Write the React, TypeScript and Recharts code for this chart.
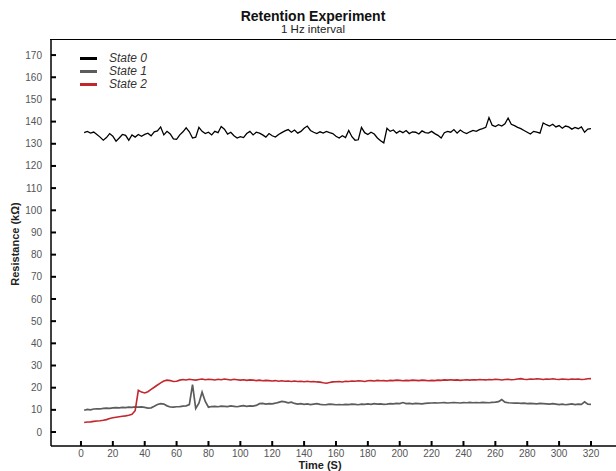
import { LineChart, Line, XAxis, YAxis } from "recharts"

const FONT = "'Liberation Sans', Arial, sans-serif"

const TIME = [
  2, 4, 6, 8, 10, 12, 14, 16, 18, 20,
  22, 24, 26, 28, 30, 32, 34, 36, 38, 40,
  42, 44, 46, 48, 50, 52, 54, 56, 58, 60,
  62, 64, 66, 68, 70, 72, 74, 76, 78, 80,
  82, 84, 86, 88, 90, 92, 94, 96, 98, 100,
  102, 104, 106, 108, 110, 112, 114, 116, 118, 120,
  122, 124, 126, 128, 130, 132, 134, 136, 138, 140,
  142, 144, 146, 148, 150, 152, 154, 156, 158, 160,
  162, 164, 166, 168, 170, 172, 174, 176, 178, 180,
  182, 184, 186, 188, 190, 192, 194, 196, 198, 200,
  202, 204, 206, 208, 210, 212, 214, 216, 218, 220,
  222, 224, 226, 228, 230, 232, 234, 236, 238, 240,
  242, 244, 246, 248, 250, 252, 254, 256, 258, 260,
  262, 264, 266, 268, 270, 272, 274, 276, 278, 280,
  282, 284, 286, 288, 290, 292, 294, 296, 298, 300,
  302, 304, 306, 308, 310, 312, 314, 316, 318, 320,
]

// resistance in kOhm, one reading every 2 s
const STATE_0 = [
  135.0, 135.6, 134.8, 135.3, 134.2, 133.0, 131.6, 132.8, 134.6, 133.4,
  131.2, 132.6, 134.2, 133.8, 131.6, 134.0, 133.0, 134.2, 133.4, 134.2,
  134.8, 133.6, 135.4, 135.8, 137.6, 134.0, 135.6, 134.4, 132.2, 132.0,
  134.0, 135.4, 137.2, 135.4, 132.6, 133.0, 137.4, 135.6, 134.6, 135.2,
  134.0, 135.6, 135.0, 137.8, 136.6, 134.4, 135.2, 133.6, 132.6, 133.2,
  132.8, 134.6, 135.6, 134.0, 135.2, 134.8, 134.0, 133.0, 134.6, 133.6,
  133.0, 134.2, 135.0, 135.8, 136.4, 135.2, 136.2, 134.8, 135.6, 137.0,
  138.0, 136.0, 135.2, 134.6, 135.4, 134.8, 135.6, 135.0, 134.6, 133.4,
  132.6, 133.6, 132.8, 136.0, 133.2, 131.6, 131.8, 137.4, 135.0, 134.2,
  135.2, 134.4, 132.6, 131.4, 130.4, 137.0, 135.6, 136.2, 134.8, 135.8,
  135.0, 136.0, 134.6, 135.4, 135.2, 134.4, 135.8, 135.0, 134.8, 135.6,
  134.6, 133.8, 132.6, 135.0, 135.6, 135.2, 136.4, 134.8, 136.2, 135.2,
  134.6, 135.4, 136.0, 135.6, 136.4, 136.8, 137.4, 141.8, 138.4, 137.8,
  138.6, 138.0, 139.0, 141.6, 138.8, 138.2, 137.4, 136.8, 136.0, 135.2,
  134.4, 135.6, 135.2, 134.8, 139.4, 138.6, 138.0, 138.8, 137.6, 138.2,
  137.0, 138.0, 137.6, 136.6, 137.4, 136.8, 137.6, 135.2, 136.6, 136.8,
]

const STATE_1 = [
  9.8, 10.2, 10.0, 10.4, 10.5, 10.4, 10.7, 10.8, 10.7, 10.9,
  11.0, 10.9, 11.1, 11.0, 11.2, 11.1, 11.3, 11.2, 11.3, 11.1,
  10.8, 10.9, 11.6, 12.4, 12.8, 12.6, 11.8, 11.3, 11.2, 11.4,
  11.5, 11.7, 11.8, 12.4, 21.4, 10.6, 13.0, 18.0, 13.8, 11.2,
  11.5, 11.6, 11.4, 11.7, 11.6, 11.5, 11.8, 11.6, 11.4, 11.7,
  11.9, 11.6, 11.8, 11.7, 12.0, 12.8, 12.9, 12.6, 12.8, 12.7,
  13.0, 13.4, 13.8, 13.6, 13.2, 13.5, 12.9, 12.6, 12.8, 12.5,
  12.7, 12.4, 12.6, 12.8, 12.5, 12.3, 12.4, 12.6, 12.5, 12.3,
  12.4, 12.3, 12.5, 12.4, 12.6, 12.5, 12.3, 12.6, 12.5, 12.7,
  12.5, 12.8, 12.6, 12.7, 12.5, 12.6, 12.8, 12.7, 12.9, 12.8,
  13.3, 12.8, 12.9, 12.7, 12.9, 12.8, 12.7, 12.9, 13.0, 13.1,
  13.2, 13.1, 13.2, 13.3, 13.1, 13.2, 13.3, 13.2, 13.1, 13.3,
  13.2, 13.4, 13.2, 13.3, 13.2, 13.4, 13.3, 13.2, 13.4, 13.5,
  13.7, 14.6, 13.5, 13.2, 13.1, 13.0, 13.1, 12.9, 13.0, 12.8,
  12.9, 12.8, 12.7, 12.9, 12.8, 12.7, 12.6, 12.8, 12.6, 12.4,
  12.6, 12.3, 12.5, 12.7, 12.4, 12.6, 12.5, 13.6, 12.6, 12.5,
]

const STATE_2 = [
  4.3, 4.5, 4.6, 4.8, 5.0, 5.1, 5.3, 5.6, 6.1, 6.4,
  6.7, 6.9, 7.1, 7.3, 7.6, 8.0, 9.6, 18.8, 18.0, 17.6,
  18.2, 19.2, 20.2, 21.2, 22.2, 23.0, 23.4, 23.2, 22.8, 22.9,
  23.4, 23.7, 23.5, 23.8, 23.6, 23.4, 23.7, 23.9, 23.6, 23.8,
  23.7, 23.5, 23.8, 23.6, 23.9, 23.7, 23.5, 23.8, 23.6, 23.4,
  23.6, 23.3, 23.5, 23.4, 23.2, 23.4, 23.1, 23.3, 23.2, 23.0,
  23.2, 22.9, 23.1, 22.9, 23.0, 22.8, 23.0, 22.8, 22.9, 22.7,
  22.9, 22.7, 22.8, 22.6, 22.5, 22.2, 22.0, 22.3, 22.6, 22.7,
  22.8, 22.6, 22.9, 22.8, 23.0, 22.9, 23.1, 23.0, 22.8, 23.1,
  23.2, 23.0, 23.3, 23.1, 23.2, 23.0, 23.3, 23.2, 23.4, 23.3,
  23.1, 23.3, 23.2, 23.4, 23.3, 23.2, 23.4, 23.3, 23.1, 23.3,
  23.2, 23.4, 23.3, 23.5, 23.4, 23.6, 23.4, 23.5, 23.3, 23.5,
  23.6, 23.4, 23.6, 23.5, 23.7, 23.6, 23.5, 23.7, 23.6, 23.8,
  23.7, 23.5, 23.7, 23.8, 23.6, 23.7, 23.9, 24.1, 23.8, 23.7,
  23.9, 23.8, 24.0, 23.9, 23.7, 23.9, 23.8, 24.0, 23.8, 23.7,
  23.9, 23.8, 23.7, 23.9, 23.8, 23.9, 23.7, 23.8, 24.0, 24.1,
]

const X_TICKS = [0, 20, 40, 60, 80, 100, 120, 140, 160, 180, 200, 220, 240, 260, 280, 300, 320]
const Y_TICKS = [0, 10, 20, 30, 40, 50, 60, 70, 80, 90, 100, 110, 120, 130, 140, 150, 160, 170]

const X_DOMAIN = [-18.8, 335.7]
const Y_DOMAIN = [-6.3, 176.8]

const SERIES = [
  { key: "s0", name: "State 0", color: "#000000", width: 1.3, values: STATE_0 },
  { key: "s1", name: "State 1", color: "#5c5c5c", width: 1.7, values: STATE_1 },
  { key: "s2", name: "State 2", color: "#c1272d", width: 1.6, values: STATE_2 },
]

const data = TIME.map((t, i) => {
  const row: Record<string, number> = { t }
  SERIES.forEach((s) => {
    row[s.key] = s.values[i]
  })
  return row
})

const tickStyle = { fontSize: 10, fill: "#555555", fontFamily: FONT }
const tickLineStyle = { stroke: "#000", strokeWidth: 2 }

export default function App() {
  return (
    <div style={{ position: "absolute", left: 0, top: 0, width: 616, height: 471, fontFamily: FONT, background: "#fff" }}>
      <div style={{ position: "absolute", left: 0, width: 626, top: 9, textAlign: "center", fontSize: 14, fontWeight: "bold", color: "#111", lineHeight: "15px" }}>
        Retention Experiment
      </div>
      <div style={{ position: "absolute", left: 0, width: 626, top: 24, textAlign: "center", fontSize: 11.5, color: "#222", lineHeight: "11px" }}>
        1 Hz interval
      </div>

      <LineChart width={616} height={471} data={data} margin={{ top: 40, right: 0, bottom: 0, left: 0 }}>
        <XAxis
          xAxisId="main"
          dataKey="t"
          type="number"
          domain={X_DOMAIN}
          ticks={X_TICKS}
          allowDataOverflow
          tick={tickStyle}
          tickLine={tickLineStyle}
          tickSize={-5}
          tickMargin={9}
          height={25}
          axisLine={{ stroke: "#000", strokeWidth: 1.5 }}
        />
        <YAxis
          yAxisId="main"
          type="number"
          domain={Y_DOMAIN}
          ticks={Y_TICKS}
          allowDataOverflow
          tick={tickStyle}
          tickLine={tickLineStyle}
          tickSize={-5}
          tickMargin={14}
          width={51}
          axisLine={{ stroke: "#000", strokeWidth: 1.5 }}
        />
        {SERIES.map((s) => (
          <Line
            key={s.key}
            xAxisId="main"
            yAxisId="main"
            type="linear"
            dataKey={s.key}
            name={s.name}
            stroke={s.color}
            strokeWidth={s.width}
            dot={false}
            isAnimationActive={false}
          />
        ))}
      </LineChart>

      {/* top edge of the plot frame */}
      <div style={{ position: "absolute", left: 50, top: 39, width: 566, height: 0, borderTop: "1.5px solid #000" }} />

      <div style={{ position: "absolute", left: 15, top: 244, transform: "translate(-50%, -50%) rotate(-90deg)", fontSize: 11, fontWeight: "bold", color: "#222", whiteSpace: "nowrap" }}>
        Resistance (kΩ)
      </div>
      <div style={{ position: "absolute", left: 320, top: 465, transform: "translate(-50%, -50%)", fontSize: 11, fontWeight: "bold", color: "#222", whiteSpace: "nowrap" }}>
        Time (S)
      </div>

      <div style={{ position: "absolute", left: 80, top: 52 }}>
        {SERIES.map((s) => (
          <div key={s.key} style={{ display: "flex", alignItems: "center", height: 13 }}>
            <div style={{ width: 17, height: 3, background: s.color }} />
            <span style={{ marginLeft: 12, fontSize: 12, fontStyle: "italic", color: "#333", lineHeight: "13px" }}>{s.name}</span>
          </div>
        ))}
      </div>
    </div>
  )
}
